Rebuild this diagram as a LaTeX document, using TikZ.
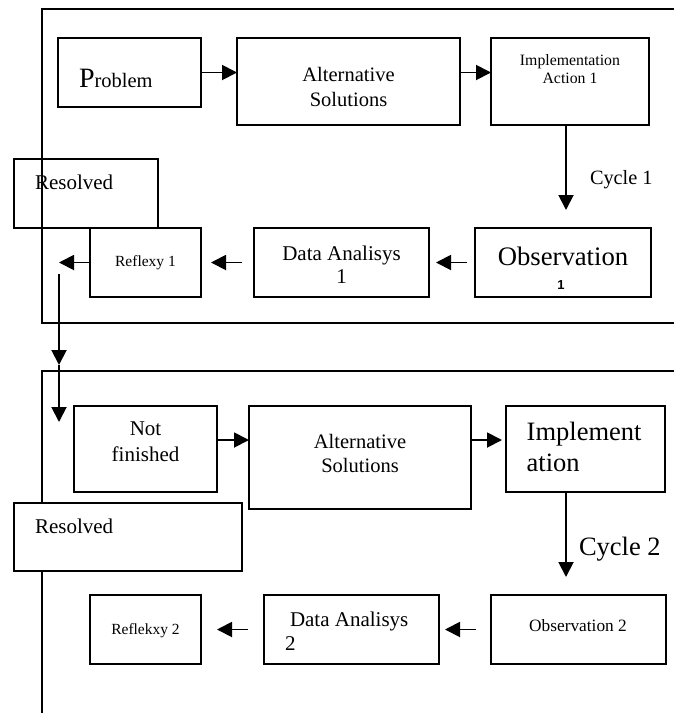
\documentclass[tikz,border=0pt]{standalone}
\usepackage{fontspec}
\setmainfont{Liberation Serif}
\newfontfamily\arialf{Liberation Sans}
\usetikzlibrary{arrows.meta}
\newcommand\setfs[2]{\fontsize{#1}{#2}\selectfont}
\tikzset{
  box/.style={draw, line width=1.9pt, inner sep=0pt, outer sep=0pt},
  lbl/.style={inner sep=0pt, outer sep=0pt},
  arr/.style={line width=1.9pt, -{Triangle[length=15pt,width=15pt]}},
  frame/.style={line width=1.9pt},
}
\begin{document}
\begin{tikzpicture}[x=1pt,y=-1pt]
\useasboundingbox (0,0) rectangle (674,713);
% frames
\draw[frame] (674,9) -- (42,9) -- (42,323) -- (674,323);
\draw[frame] (674,371) -- (42,371) -- (42,713);

% ---- cycle 1 ----
\node[box, minimum width=143pt, minimum height=69pt] (prob) at (129.5,72.5) {};
\node[lbl, anchor=base west] (probt) at (79,87.3) {{\setfs{28}{30}P}{\setfs{20.5}{24}roblem}};
\node[box, minimum width=223pt, minimum height=87pt] (alt1) at (348.5,81.5) {};
\node[lbl, align=center, font=\setfs{20.5}{24.3}] (alt1t) at (348.5,87) {Alternative\\Solutions};
\node[box, minimum width=158pt, minimum height=87pt] (impl1) at (570,81.5) {};
\node[lbl, align=center, font=\setfs{15.8}{18.3}] (impl1t) at (570,68.8) {Implementation\\Action 1};
\node[lbl, anchor=base west, font=\setfs{20.3}{24}] (cyc1) at (590,184.5) {Cycle 1};
\node[box, minimum width=176pt, minimum height=69pt] (obs1) at (563,262.5) {};
\node[lbl, anchor=base, font=\setfs{26.7}{30}] (obs1t) at (563,265) {Observation};
\node[lbl, anchor=base, font=\arialf\bfseries\setfs{13}{15}] (obs1n) at (561,289) {1};
\node[box, minimum width=175pt, minimum height=69pt] (data1) at (341.5,262.5) {};
\node[lbl, align=center, font=\setfs{21}{23}] (data1t) at (341.5,264.4) {Data Analisys\\1};
\node[box, minimum width=111pt, minimum height=69pt] (refl1) at (145.5,262.5) {};
\node[lbl, anchor=base, font=\setfs{15.5}{18}] (refl1t) at (145.5,266) {Reflexy 1};
\node[box, minimum width=144pt, minimum height=69pt] (res1) at (86,193.5) {};
\node[lbl, anchor=base west, font=\setfs{21}{24}] (res1t) at (35,189.5) {Resolved};

\draw[arr] (prob.east) -- (prob.east -| alt1.west);
\draw[arr] (alt1.east |- prob.east) -- (impl1.west |- prob.east);
\draw[arr, shorten >=18pt] ([xshift=-4pt]impl1.south) -- ([xshift=-4pt]impl1.south |- obs1.north);
\draw[arr, shorten <=8pt, shorten >=7pt] (obs1.west) -- (data1.east);
\draw[arr, shorten <=12pt, shorten >=10pt] (data1.west) -- (refl1.east);
\coordinate (l1) at (59,262.5);
\draw[arr] (refl1.west) -- (l1);
\coordinate (v0) at (59,274);
\coordinate (v1) at (59,365);
\coordinate (v2) at (59,422);
\draw[arr] (v0) -- (v1);
\draw[arr] (v1) -- (v2);

% ---- cycle 2 ----
\node[box, minimum width=143pt, minimum height=86pt] (nf) at (145.5,449) {};
\node[lbl, align=center, font=\setfs{21}{25.7}] (nft) at (145.5,441.7) {Not\\finished};
\node[box, minimum width=222pt, minimum height=103pt] (alt2) at (360,457.5) {};
\node[lbl, align=center, font=\setfs{20.5}{24}] (alt2t) at (360,453.8) {Alternative\\Solutions};
\node[box, minimum width=159pt, minimum height=86pt] (impl2) at (585.5,449) {};
\node[lbl, align=left, anchor=west, font=\setfs{26.5}{31}] (impl2t) at (526.7,447.2) {Implement\\ation};
\node[lbl, anchor=base west, font=\setfs{26.5}{30}] (cyc2) at (579,555) {Cycle 2};
\node[box, fill=white, minimum width=228pt, minimum height=68pt] (res2) at (128,537) {};
\node[lbl, anchor=base west, font=\setfs{21}{24}] (res2t) at (35,533) {Resolved};
\node[box, minimum width=175pt, minimum height=69pt] (obs2) at (578.5,629.5) {};
\node[lbl, anchor=base, font=\setfs{17.3}{20}] (obs2t) at (578,631.5) {Observation 2};
\node[box, minimum width=175pt, minimum height=69pt] (data2) at (351.5,629.5) {};
\node[lbl, align=left, anchor=west, font=\setfs{21}{24.7}] (data2t) at (285,631.2) {\hspace*{5pt}Data Analisys\\2};
\node[box, minimum width=111pt, minimum height=69pt] (refl2) at (145.5,629.5) {};
\node[lbl, anchor=base, font=\setfs{15.5}{18}] (refl2t) at (145.5,634) {Reflekxy 2};

\draw[arr] ([yshift=9pt]nf.east) -- ([yshift=9pt]nf.east -| alt2.west);
\draw[arr, shorten >=4pt] ([yshift=9pt]nf.east -| alt2.east) -- ([yshift=9pt]nf.east -| impl2.west);
\draw[arr, shorten >=18pt] ([xshift=-19.5pt]impl2.south) -- ([xshift=-19.5pt]impl2.south |- obs2.north);
\draw[arr, shorten <=15pt, shorten >=6pt] (obs2.west) -- (data2.east);
\draw[arr, shorten <=16pt, shorten >=16pt] (data2.west) -- (refl2.east);
\end{tikzpicture}
\end{document}
